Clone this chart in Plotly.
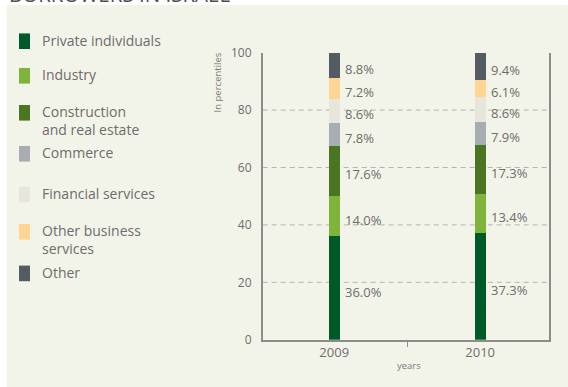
import plotly.graph_objects as go

# Loan portfolio composition by borrower sector (percent of total)
years = ["2009", "2010"]
sectors = [
    "Private individuals",
    "Industry",
    "Construction\nand real estate",
    "Commerce",
    "Financial services",
    "Other business\nservices",
    "Other",
]
share_2009 = [36.0, 14.0, 17.6, 7.8, 8.6, 7.2, 8.8]
share_2010 = [37.3, 13.4, 17.3, 7.9, 8.6, 6.1, 9.4]
colors = ["#005a28", "#80b33a", "#4a7622", "#a8adb1", "#e8e5da", "#fed593", "#525c62"]
y_ticks = [0, 20, 40, 60, 80, 100]
grid_values = [20, 40, 60, 80]
title_text = "BORROWERS IN ISRAEL"

W, H = 568, 387
BG = "#f3f4e9"
TEXT = "#6d6d6d"
AXIS = "#8c8c8c"
FONT = "Open Sans"


def fx(px):
    return px / W


def fy(py):
    return 1 - py / H


series = list(zip(share_2009, share_2010))
fig = go.Figure()
for name, vals, col in zip(sectors, series, colors):
    fig.add_trace(go.Bar(
        x=years, y=list(vals), name=name.replace("\n", " "),
        marker=dict(color=col, line=dict(width=0)),
        width=0.076, showlegend=False, hoverinfo="skip",
    ))

annotations = []
shapes = []

# value labels beside each stacked segment (x given as category index)
for yi in range(len(years)):
    base = 0.0
    for vals in series:
        v = vals[yi]
        annotations.append(dict(
            x=yi, y=base + v / 2, xref="x", yref="y", text=f"{v:.1f}%",
            showarrow=False, xanchor="left", yanchor="middle",
            xshift=9, yshift=-3.5, font=dict(family=FONT, size=13, color=TEXT),
        ))
        base += v

# dashed horizontal guides
for g in grid_values:
    shapes.append(dict(
        type="line", xref="x domain", yref="y", x0=0, x1=1, y0=g, y1=g,
        line=dict(color="#b3b3b3", width=1, dash="5px,4px"), layer="below",
    ))

# white strips around the panel
shapes.append(dict(type="rect", xref="paper", yref="paper", x0=0, x1=1,
                   y0=fy(5), y1=1, fillcolor="white", line=dict(width=0), layer="below"))
shapes.append(dict(type="rect", xref="paper", yref="paper", x0=0, x1=fx(6.7),
                   y0=0, y1=1, fillcolor="white", line=dict(width=0), layer="below"))

# hand-drawn legend on the left
legend_rows = [41.2, 75.8, 112.8, 153.8, 194.5, 231.8, 273.4]
for name, col, cy in zip(sectors, colors, legend_rows):
    shapes.append(dict(type="rect", xref="paper", yref="paper",
                       x0=fx(19), x1=fx(30), y0=fy(cy + 7.8), y1=fy(cy - 7.8),
                       fillcolor=col, line=dict(width=0)))
    lines = name.split("\n")
    annotations.append(dict(
        x=fx(39.5), y=fy(cy - 12.5), xref="paper", yref="paper",
        text="<br>".join(lines), showarrow=False, xanchor="left", yanchor="top",
        align="left", font=dict(family=FONT, size=14, color=TEXT),
    ))

# axis captions and title
annotations.append(dict(x=fx(217), y=fy(82.4), xref="paper", yref="paper",
                        xanchor="center", yanchor="middle",
                        text="In percentiles", textangle=-90, showarrow=False,
                        font=dict(family=FONT, size=9.5, color="#7a7a7a")))
annotations.append(dict(x=fx(409), y=fy(365.7), xref="paper", yref="paper",
                        xanchor="center", yanchor="middle",
                        text="years", showarrow=False,
                        font=dict(family=FONT, size=9.5, color="#7a7a7a")))
annotations.append(dict(x=fx(7), y=fy(4.3), xref="paper", yref="paper",
                        text=title_text, showarrow=False, xanchor="left",
                        yanchor="bottom", yshift=-6,
                        font=dict(family=FONT, size=20.5, color="#4d4d4d")))

fig.update_layout(
    width=W, height=H, barmode="stack",
    margin=dict(l=0, r=0, t=0, b=0, pad=0, autoexpand=False),
    paper_bgcolor=BG, plot_bgcolor="rgba(0,0,0,0)",
    showlegend=False, annotations=annotations, shapes=shapes,
    font=dict(family=FONT, color=TEXT),
    xaxis=dict(
        domain=[fx(262.7), fx(548.7)], type="category",
        range=[-0.49, 1.47], tickson="boundaries",
        ticks="outside", ticklen=6, tickwidth=1.3, tickcolor=AXIS,
        showline=True, linecolor=AXIS, linewidth=1.5, mirror=False,
        showgrid=False, tickfont=dict(family=FONT, size=13, color=TEXT),
    ),
    yaxis=dict(
        domain=[fy(339.7), fy(52.7)], range=[0, 100],
        tickvals=y_ticks, ticks="", showgrid=False, zeroline=False,
        showline=True, linecolor=AXIS, linewidth=1.5, mirror=True,
        ticklabelstandoff=7, tickfont=dict(family=FONT, size=12, color=TEXT),
    ),
)

fig.write_html("out.html")
